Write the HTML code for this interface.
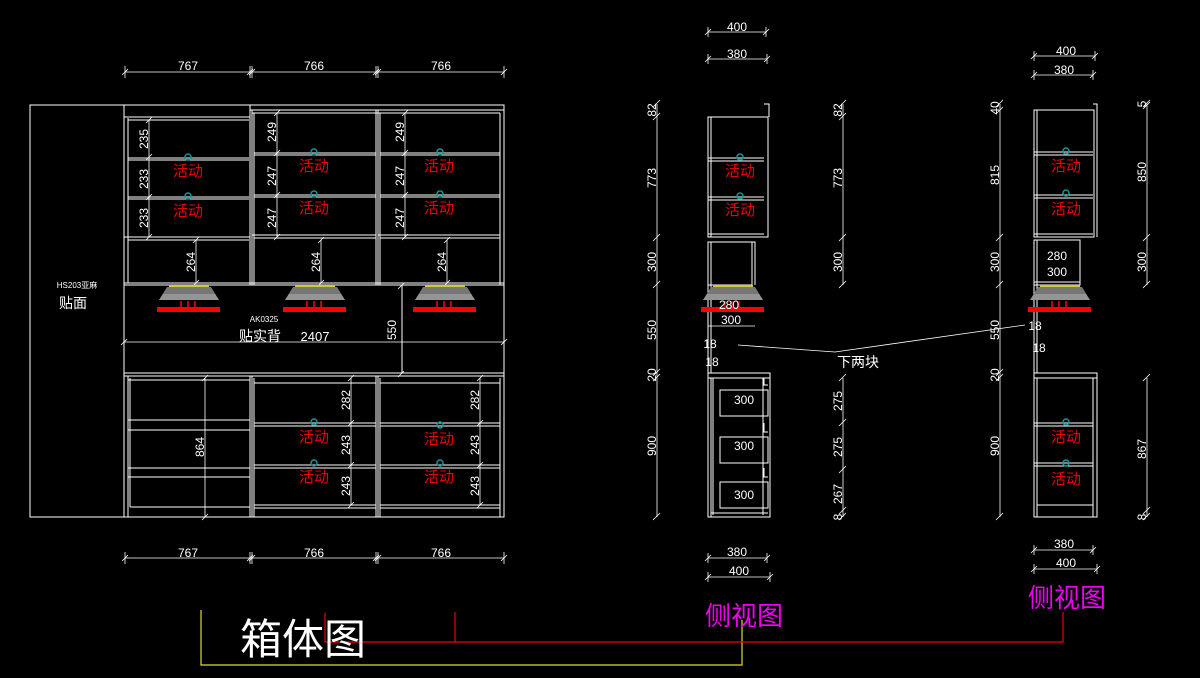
<!DOCTYPE html>
<html><head><meta charset="utf-8"><style>
html,body{margin:0;padding:0;background:#000;width:1200px;height:678px;overflow:hidden}
svg{display:block}
text{font-family:"Liberation Sans","Noto Sans CJK SC",sans-serif;fill:#fff}
.w{stroke:#fff;stroke-width:1;fill:none}
.d{stroke:#fff;stroke-width:0.8;fill:none}
.r{fill:#e00;font-size:15px}
.dim{font-size:12px}
</style></head><body>
<svg width="1200" height="678" viewBox="0 0 1200 678" xmlns="http://www.w3.org/2000/svg">
<defs>
<g id="lamp">
<line x1="-20" y1="0" x2="20" y2="0" stroke="#cc3" stroke-width="2"/>
<path d="M-22 1 L22 1 L30 14 L-30 14 Z" fill="#777"/>
<path d="M-26 8 L26 8 L30 14 L-30 14 Z" fill="#aaa" opacity="0.6"/>
<rect x="-32" y="21" width="63" height="5" fill="#f00"/>
<path d="M-8 15 V21 M-1 15 V21 M6 15 V21" stroke="#f00" stroke-width="1.5"/>
</g>
<g id="knob"><circle cx="0" cy="0" r="3" fill="none" stroke="#199" stroke-width="1.5"/></g>
</defs>

<!-- ========== FRONT VIEW ========== -->
<!-- top dims -->
<g class="d">
<line x1="125" y1="72" x2="504" y2="72"/>
<path d="M125 66V78M250 66V78M252 66V78M376 66V78M378 66V78M504 66V78"/>
<path d="M122 75l6-6M247 75l6-6M249 75l6-6M373 75l6-6M375 75l6-6M501 75l6-6"/>
<line x1="125" y1="558" x2="504" y2="558"/>
<path d="M125 552V564M250 552V564M252 552V564M376 552V564M378 552V564M504 552V564"/>
<path d="M122 561l6-6M247 561l6-6M249 561l6-6M373 561l6-6M375 561l6-6M501 561l6-6"/>
</g>
<g class="dim" text-anchor="middle">
<text x="188" y="70">767</text><text x="314" y="70">766</text><text x="441" y="70">766</text>
<text x="188" y="557">767</text><text x="314" y="557">766</text><text x="441" y="557">766</text>
</g>

<!-- outer -->
<g class="w">
<rect x="30" y="105" width="474" height="412"/>
<line x1="124" y1="105" x2="124" y2="517"/>
<!-- column verticals -->
<path d="M128 118V283M250 105V285M252 110V285M254 113V285M376 110V285M378 110V285M380 113V285M500 113V285"/>
<!-- col1 top band -->
<path d="M124 117H250M128 120H249"/>
<!-- col2/3 top -->
<path d="M250 110H504M252 113H500"/>
<!-- shelves col1 -->
<path d="M128 158H249M128 160H249M128 197H249M128 199H249M124 237H250M128 240H249M124 283H504"/>
<!-- shelves col2/3 -->
<path d="M254 153H376M254 155H376M254 195H376M254 197H376M252 235H376M254 238H376M380 153H500M380 155H500M380 195H500M380 197H500M378 235H500M380 238H500"/>
<path d="M124 285H504"/>
<!-- middle -->
<path d="M402 285V373M124 373H504M124 376H504"/>
<!-- bottom -->
<path d="M128 376V517M130 378V507M250 376V517M252 376V517M254 378V517M376 376V517M378 376V517M380 378V517M500 378V517"/>
<path d="M128 380H250M128 420H250M128 430H250M128 468H250M128 477H250M130 507H250"/>
<path d="M254 383H376M254 423H376M254 426H376M254 465H376M254 468H376M254 505H376M254 508H376M380 383H500M380 423H500M380 426H500M380 465H500M380 468H500M380 505H500M380 508H500"/>
</g>
<!-- 2407 dim -->
<g class="d"><line x1="124" y1="342" x2="504" y2="342"/><path d="M121 345l6-6M501 345l6-6"/>
<line x1="402" y1="285" x2="402" y2="373"/><path d="M398 289l6-6M398 377l6-6"/></g>
<!-- vertical dims front -->
<g class="d">
<path d="M149 120V237M146 160l6-6M146 200l6-6M146 123l6-6M146 240l6-6"/>
<path d="M277 113V237M274 116l6-6M274 156l6-6M274 198l6-6M274 240l6-6"/>
<path d="M405 113V237M402 116l6-6M402 156l6-6M402 198l6-6M402 240l6-6"/>
<path d="M196 240V283M193 243l6-6M193 286l6-6"/>
<path d="M321 240V283M318 243l6-6M318 286l6-6"/>
<path d="M447 240V283M444 243l6-6M444 286l6-6"/>
<path d="M205 378V517M202 381l6-6M202 520l6-6"/>
<path d="M351 378V505M348 381l6-6M348 426l6-6M348 468l6-6M348 508l6-6"/>
<path d="M480 378V505M477 381l6-6M477 426l6-6M477 468l6-6M477 508l6-6"/>
</g>
<g class="dim" text-anchor="middle">
<text transform="translate(148,139) rotate(-90)">235</text>
<text transform="translate(148,179) rotate(-90)">233</text>
<text transform="translate(148,218) rotate(-90)">233</text>
<text transform="translate(276,132) rotate(-90)">249</text>
<text transform="translate(276,176) rotate(-90)">247</text>
<text transform="translate(276,218) rotate(-90)">247</text>
<text transform="translate(404,132) rotate(-90)">249</text>
<text transform="translate(404,176) rotate(-90)">247</text>
<text transform="translate(404,218) rotate(-90)">247</text>
<text transform="translate(195,262) rotate(-90)">264</text>
<text transform="translate(320,262) rotate(-90)">264</text>
<text transform="translate(446,262) rotate(-90)">264</text>
<text transform="translate(204,447) rotate(-90)">864</text>
<text transform="translate(350,400) rotate(-90)">282</text>
<text transform="translate(350,445) rotate(-90)">243</text>
<text transform="translate(350,486) rotate(-90)">243</text>
<text transform="translate(479,400) rotate(-90)">282</text>
<text transform="translate(479,445) rotate(-90)">243</text>
<text transform="translate(479,486) rotate(-90)">243</text>
<text transform="translate(396,330) rotate(-90)">550</text>
</g>
<!-- 活动 front -->
<g text-anchor="middle" class="r">
<text class="r" x="188" y="176">活动</text><text class="r" x="188" y="216">活动</text>
<text class="r" x="314" y="171">活动</text><text class="r" x="314" y="213">活动</text>
<text class="r" x="439" y="171">活动</text><text class="r" x="439" y="213">活动</text>
<text class="r" x="314" y="442">活动</text><text class="r" x="314" y="482">活动</text>
<text class="r" x="439" y="444">活动</text><text class="r" x="439" y="482">活动</text>
</g>
<use href="#knob" x="188" y="157"/><use href="#knob" x="188" y="196"/>
<use href="#knob" x="314" y="152"/><use href="#knob" x="314" y="194"/>
<use href="#knob" x="440" y="152"/><use href="#knob" x="440" y="194"/>
<use href="#knob" x="314" y="422"/><use href="#knob" x="314" y="463"/>
<use href="#knob" x="440" y="425"/><use href="#knob" x="440" y="463"/>
<use href="#lamp" x="189" y="286"/><use href="#lamp" x="315" y="286"/><use href="#lamp" x="445" y="286"/>
<text x="77" y="288" text-anchor="middle" style="font-size:8px">HS203亚麻</text>
<text x="73" y="308" text-anchor="middle" style="font-size:14px">贴面</text>
<text x="264" y="322" text-anchor="middle" style="font-size:8px">AK0325</text>
<text x="260" y="341" text-anchor="middle" style="font-size:14px">贴实背</text>
<text x="315" y="341" text-anchor="middle" style="font-size:13px">2407</text>

<!-- ========== SIDE VIEW 1 ========== -->
<g class="d">
<path d="M708 32H766M708 27V37M766 27V37M705 35l6-6M763 35l6-6"/>
<path d="M708 59H767M708 54V64M767 54V64M705 62l6-6M764 62l6-6"/>
<path d="M708 558H767M708 553V563M767 553V563M705 561l6-6M764 561l6-6"/>
<path d="M708 577H770M708 572V582M770 572V582M705 580l6-6M767 580l6-6"/>
<path d="M657 104V517M653 107l7-7M653 120l7-7M653 241l7-7M653 288l7-7M653 376l7-7M653 381l7-7M653 520l7-7"/>
<path d="M843 104V285M839 107l7-7M839 120l7-7M839 241l7-7M839 288l7-7"/>
<path d="M843 378V517M839 381l7-7M839 426l7-7M839 473l7-7M839 514l7-7M839 520l7-7"/>
</g>
<g class="dim" text-anchor="middle">
<text x="737" y="31">400</text><text x="737" y="58">380</text>
<text x="737" y="556">380</text><text x="739" y="575">400</text>
<text transform="translate(656,110) rotate(-90)">82</text>
<text transform="translate(656,178) rotate(-90)">773</text>
<text transform="translate(656,262) rotate(-90)">300</text>
<text transform="translate(656,330) rotate(-90)">550</text>
<text transform="translate(656,375) rotate(-90)">20</text>
<text transform="translate(656,446) rotate(-90)">900</text>
<text transform="translate(842,110) rotate(-90)">82</text>
<text transform="translate(842,178) rotate(-90)">773</text>
<text transform="translate(842,262) rotate(-90)">300</text>
<text transform="translate(842,401) rotate(-90)">275</text>
<text transform="translate(842,447) rotate(-90)">275</text>
<text transform="translate(842,494) rotate(-90)">267</text>
<text transform="translate(842,517) rotate(-90)">8</text>
</g>
<g class="w">
<rect x="708" y="117" width="60" height="120"/><path d="M711 117V237M764 104H769V117M708 158H764M708 161H764M708 197H764M708 200H764M708 234H764"/>
<rect x="708" y="242" width="44" height="43"/><path d="M711 242V285M752 242H755V285"/>
<path d="M708 285V373M711 285V373"/>
<rect x="708" y="373" width="62" height="144"/><path d="M711 378V517M708 378H770M713 378V515M763 378V515M711 513H768"/>
<path d="M764 378V385H768M764 423V432H768M764 468V477H768"/>
<rect x="720" y="390" width="48" height="26"/><rect x="720" y="437" width="48" height="26"/><rect x="720" y="482" width="48" height="26"/>
</g>
<use href="#lamp" x="733" y="286"/>
<g class="dim" text-anchor="middle">
<text x="729" y="309" style="font-size:12px">280</text>
<text x="731" y="324">300</text><line class="d" x1="708" y1="326" x2="755" y2="326"/>
<text x="710" y="348">18</text><text x="712" y="366">18</text>
<text x="744" y="404">300</text><text x="744" y="450">300</text><text x="744" y="499">300</text>
</g>
<text class="r" x="740" y="176" text-anchor="middle">活动</text>
<text class="r" x="740" y="215" text-anchor="middle">活动</text>
<use href="#knob" x="740" y="157"/><use href="#knob" x="740" y="196"/>

<!-- connector -->
<path class="d" d="M738 345L835 352L1025 325"/>
<text x="858" y="367" text-anchor="middle" style="font-size:14px">下两块</text>

<!-- ========== SIDE VIEW 2 ========== -->
<g class="d">
<path d="M1034 56H1095M1034 51V61M1095 51V61M1031 59l6-6M1092 59l6-6"/>
<path d="M1034 75H1093M1034 70V80M1093 70V80M1031 78l6-6M1090 78l6-6"/>
<path d="M1034 550H1093M1034 545V555M1093 545V555M1031 553l6-6M1090 553l6-6"/>
<path d="M1034 569H1097M1034 564V574M1097 564V574M1031 572l6-6M1094 572l6-6"/>
<path d="M1000 104V517M996 107l7-7M996 114l7-7M996 241l7-7M996 288l7-7M996 376l7-7M996 381l7-7M996 520l7-7"/>
<path d="M1147 104V285M1143 107l7-7M1143 109l7-7M1143 241l7-7M1143 288l7-7"/>
<path d="M1147 378V517M1143 381l7-7M1143 514l7-7M1143 520l7-7"/>
</g>
<g class="dim" text-anchor="middle">
<text x="1066" y="55">400</text><text x="1064" y="74">380</text>
<text x="1064" y="548">380</text><text x="1066" y="567">400</text>
<text transform="translate(999,108) rotate(-90)">40</text>
<text transform="translate(999,175) rotate(-90)">815</text>
<text transform="translate(999,262) rotate(-90)">300</text>
<text transform="translate(999,330) rotate(-90)">550</text>
<text transform="translate(999,375) rotate(-90)">20</text>
<text transform="translate(999,446) rotate(-90)">900</text>
<text transform="translate(1146,104) rotate(-90)">5</text>
<text transform="translate(1146,172) rotate(-90)">850</text>
<text transform="translate(1146,262) rotate(-90)">300</text>
<text transform="translate(1146,449) rotate(-90)">867</text>
<text transform="translate(1146,517) rotate(-90)">8</text>
</g>
<g class="w">
<rect x="1034" y="110" width="60" height="127"/><path d="M1037 110V237M1093 104H1097V237M1034 152H1093M1034 155H1093M1034 195H1093M1034 198H1093M1034 234H1093"/>
<rect x="1034" y="240" width="46" height="45"/><path d="M1037 240V285M1034 282H1080"/>
<path d="M1034 285V373M1037 285V373"/>
<rect x="1034" y="373" width="63" height="144"/><path d="M1037 378V517M1034 378H1097M1093 378V517M1034 423H1093M1034 426H1093M1034 463H1093M1034 466H1093M1037 505H1093"/>
</g>
<use href="#lamp" x="1060" y="286"/>
<g class="dim" text-anchor="middle">
<text x="1057" y="260">280</text><text x="1057" y="276">300</text>
<text x="1035" y="330">18</text><text x="1039" y="352">18</text>
</g>
<g text-anchor="middle">
<text class="r" x="1066" y="171">活动</text><text class="r" x="1066" y="214">活动</text>
<text class="r" x="1066" y="442">活动</text><text class="r" x="1066" y="484">活动</text>
</g>
<use href="#knob" x="1066" y="151"/><use href="#knob" x="1066" y="193"/>
<use href="#knob" x="1066" y="422"/><use href="#knob" x="1066" y="463"/>

<!-- ========== TITLES ========== -->
<path d="M201 610V665H742V620" stroke="#dd3" stroke-width="1.2" fill="none"/>
<path d="M325 613V642H1063V612M455 612V642" stroke="#e00" stroke-width="1.2" fill="none"/>
<text x="240" y="654" style="font-size:42px">箱体图</text>
<text x="705" y="625" style="font-size:26px;fill:#e0e">侧视图</text>
<text x="1028" y="607" style="font-size:26px;fill:#e0e">侧视图</text>
</svg>
</body></html>
